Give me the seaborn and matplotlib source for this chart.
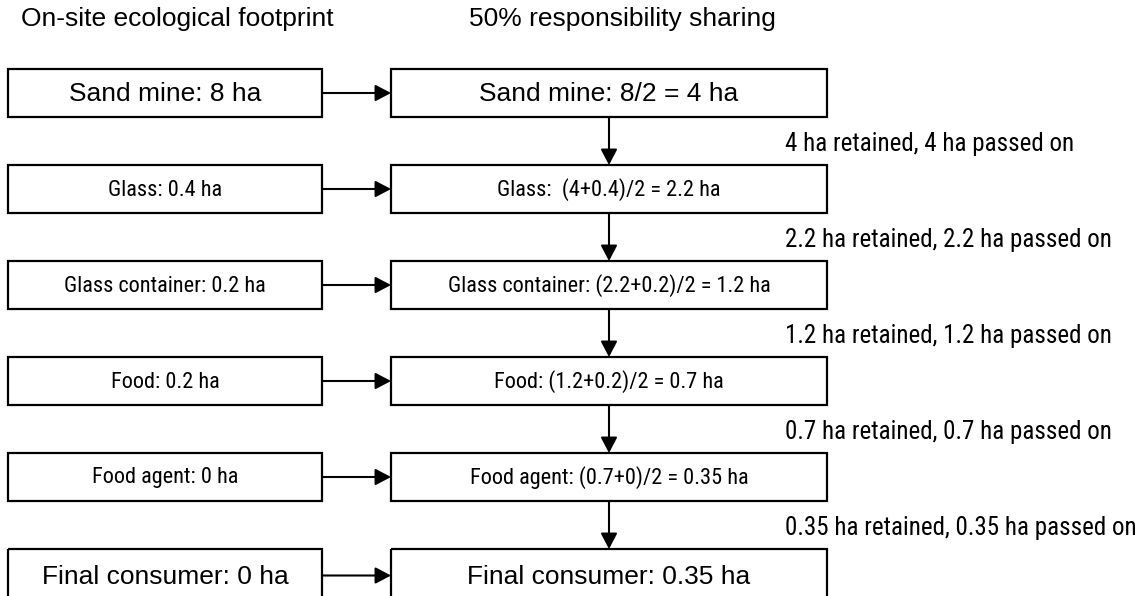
import matplotlib
matplotlib.use("Agg")
import matplotlib.pyplot as plt
import seaborn as sns
from matplotlib.patches import Rectangle

sns.set_theme(style="white")
plt.rcParams['font.family'] = ['Liberation Sans', 'DejaVu Sans']
plt.rcParams['text.color'] = 'black'

headers = ["On-site ecological footprint", "50% responsibility sharing"]
left_labels = ["Sand mine: 8 ha", "Glass: 0.4 ha", "Glass container: 0.2 ha",
               "Food: 0.2 ha", "Food agent: 0 ha", "Final consumer: 0 ha"]
right_labels = ["Sand mine: 8/2 = 4 ha", "Glass:  (4+0.4)/2 = 2.2 ha",
                "Glass container: (2.2+0.2)/2 = 1.2 ha", "Food: (1.2+0.2)/2 = 0.7 ha",
                "Food agent: (0.7+0)/2 = 0.35 ha", "Final consumer: 0.35 ha"]
side_labels = ["4 ha retained, 4 ha passed on", "2.2 ha retained, 2.2 ha passed on",
               "1.2 ha retained, 1.2 ha passed on", "0.7 ha retained, 0.7 ha passed on",
               "0.35 ha retained, 0.35 ha passed on"]
# rows drawn with the plain (wide) font; the others use the narrow one
wide_rows = [0, 5]

narrow = ['Roboto Condensed', 'DejaVu Sans']
wide = ['Liberation Sans', 'DejaVu Sans']

fig = plt.figure(figsize=(11.43, 5.96), dpi=100)
ax = fig.add_axes([0, 0, 1, 1])
ax.set_xlim(0, 1143)
ax.set_ylim(596, 0)
ax.axis('off')

lx0, lx1 = 8, 322
rx0, rx1 = 391, 827
top0, step, h = 69, 96, 48
rc = (rx0 + rx1) / 2

ax.text(21, 19, headers[0], fontsize=19, family=wide, va='center', ha='left')
ax.text(469, 19, headers[1], fontsize=19, family=wide, va='center', ha='left')

arrow_kw = dict(arrowstyle='-|>,head_length=0.95,head_width=0.5', color='black',
                lw=1.5, shrinkA=0, shrinkB=0, mutation_scale=10)

for i, (lt, rt) in enumerate(zip(left_labels, right_labels)):
    top = top0 + step * i
    hh = h if i < len(left_labels) - 1 else 53
    yc = top + hh / 2
    big = i in wide_rows
    fam = wide if big else narrow
    fs = 19 if big else 16
    for x0, x1, t in [(lx0, lx1, lt), (rx0, rx1, rt)]:
        ax.add_patch(Rectangle((x0, top), x1 - x0, hh, fill=False, ec='black', lw=1.6))
        ax.text((x0 + x1) / 2, yc + 1, t, fontsize=fs, family=fam, ha='center', va='center')
    ax.annotate('', xy=(rx0, yc), xytext=(lx1, yc), arrowprops=arrow_kw)
    if i < len(side_labels):
        bot = top + hh
        nxt = top0 + step * (i + 1)
        ax.annotate('', xy=(rc, nxt), xytext=(rc, bot), arrowprops=arrow_kw)
        ax.text(785, (bot + nxt) / 2 + 3, side_labels[i], fontsize=18, family=narrow,
                ha='left', va='center')

fig.savefig("out.png", dpi=100, facecolor='white')
